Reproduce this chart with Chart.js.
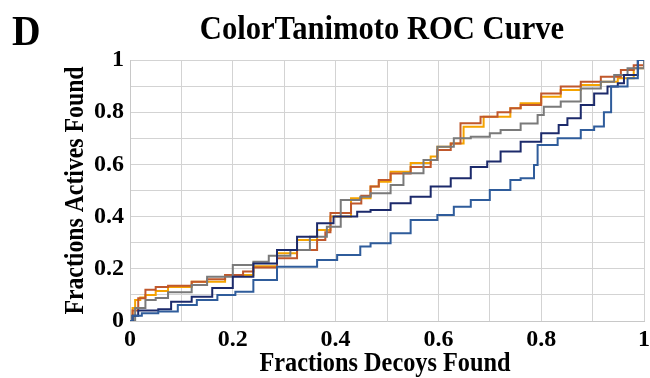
<!DOCTYPE html>
<html>
<head>
<meta charset="utf-8">
<script src="https://cdn.jsdelivr.net/npm/chart.js@4"></script>
<style>
  html, body { margin: 0; padding: 0; background: #fff; }
  #wrap { width: 650px; height: 378px; position: relative; }
</style>
</head>
<body>
<div id="wrap"><canvas id="roc"></canvas></div>
<script>
// ==========================================
// DATA
// ==========================================

const tickLabels = ['0', '0.2', '0.4', '0.6', '0.8', '1'];

const brownX = [0, 0.005, 0.016, 0.03, 0.05, 0.074, 0.12, 0.15, 0.185, 0.22, 0.24, 0.286, 0.325, 0.364, 0.38, 0.39, 0.43, 0.45, 0.468, 0.484, 0.507, 0.546, 0.585, 0.598, 0.624, 0.643, 0.682, 0.715, 0.74, 0.76, 0.80, 0.838, 0.877, 0.916, 0.955, 0.98, 1];
const brownY = [0, 0.04, 0.087, 0.12, 0.13, 0.135, 0.15, 0.16, 0.176, 0.19, 0.205, 0.24, 0.272, 0.31, 0.34, 0.414, 0.45, 0.48, 0.515, 0.54, 0.565, 0.59, 0.617, 0.655, 0.68, 0.758, 0.783, 0.80, 0.815, 0.828, 0.872, 0.898, 0.917, 0.936, 0.962, 0.98, 1];

const orangeX = [0, 0.005, 0.01, 0.02, 0.03, 0.05, 0.074, 0.12, 0.185, 0.24, 0.286, 0.325, 0.364, 0.39, 0.43, 0.468, 0.484, 0.507, 0.546, 0.585, 0.598, 0.624, 0.649, 0.688, 0.74, 0.76, 0.80, 0.838, 0.877, 0.916, 0.949, 0.98, 1];
const orangeY = [0, 0.05, 0.08, 0.09, 0.10, 0.115, 0.13, 0.15, 0.176, 0.21, 0.26, 0.31, 0.349, 0.40, 0.47, 0.515, 0.534, 0.572, 0.605, 0.63, 0.668, 0.68, 0.744, 0.783, 0.815, 0.834, 0.859, 0.885, 0.904, 0.917, 0.93, 0.968, 1];

const grayX = [0, 0.01, 0.03, 0.05, 0.074, 0.12, 0.15, 0.2, 0.24, 0.27, 0.312, 0.35, 0.383, 0.41, 0.448, 0.468, 0.507, 0.532, 0.571, 0.598, 0.63, 0.663, 0.70, 0.721, 0.76, 0.793, 0.805, 0.838, 0.877, 0.916, 0.942, 0.968, 1];
const grayY = [0, 0.05, 0.08, 0.088, 0.11, 0.138, 0.17, 0.215, 0.227, 0.25, 0.272, 0.323, 0.361, 0.464, 0.476, 0.489, 0.521, 0.566, 0.617, 0.668, 0.70, 0.706, 0.719, 0.732, 0.757, 0.789, 0.821, 0.841, 0.891, 0.917, 0.943, 0.968, 1];

const navyX = [0, 0.005, 0.016, 0.055, 0.08, 0.12, 0.16, 0.2, 0.24, 0.286, 0.325, 0.364, 0.396, 0.442, 0.468, 0.507, 0.546, 0.585, 0.624, 0.663, 0.695, 0.721, 0.76, 0.80, 0.834, 0.851, 0.877, 0.903, 0.929, 0.949, 0.961, 0.988, 1];
const navyY = [0, 0.02, 0.04, 0.045, 0.074, 0.093, 0.126, 0.17, 0.22, 0.272, 0.323, 0.375, 0.40, 0.419, 0.425, 0.451, 0.476, 0.515, 0.547, 0.59, 0.611, 0.649, 0.687, 0.719, 0.751, 0.777, 0.828, 0.872, 0.898, 0.911, 0.943, 1, 1];

const blueX = [0, 0.005, 0.023, 0.055, 0.093, 0.13, 0.17, 0.205, 0.24, 0.286, 0.318, 0.364, 0.403, 0.448, 0.468, 0.507, 0.546, 0.598, 0.63, 0.663, 0.70, 0.74, 0.76, 0.786, 0.793, 0.832, 0.877, 0.903, 0.922, 0.936, 0.968, 0.988, 1];
const blueY = [0, 0.02, 0.03, 0.036, 0.061, 0.08, 0.10, 0.112, 0.157, 0.208, 0.208, 0.234, 0.253, 0.285, 0.298, 0.336, 0.387, 0.406, 0.438, 0.464, 0.502, 0.54, 0.547, 0.598, 0.674, 0.70, 0.732, 0.745, 0.80, 0.898, 0.93, 1, 1];

// ==========================================
// CHART
// ==========================================

const serif = '"Liberation Serif", "Times New Roman", serif';

function toPoints(xs, ys) {
    return xs.map((x, i) => ({ x: x, y: ys[i] }));
}

function series(xs, ys, color) {
    return {
        data: toPoints(xs, ys),
        borderColor: color,
        borderWidth: 2,
        pointRadius: 0,
        stepped: true,
        fill: false
    };
}

// draw a string squeezed along its own direction (the source figure uses narrow type)
function squeezedText(ctx, text, x, y, size, squeeze, angle) {
    ctx.save();
    ctx.translate(x, y);
    if (angle) ctx.rotate(angle);
    ctx.scale(squeeze, 1);
    ctx.font = 'bold ' + size + 'px ' + serif;
    ctx.fillText(text, 0, 0);
    ctx.restore();
}

// panel letter, title and axis titles, placed by hand
const headerText = {
    id: 'headerText',
    afterDraw(chart) {
        const ctx = chart.ctx;
        const area = chart.chartArea;
        ctx.save();
        ctx.fillStyle = '#000';
        ctx.textBaseline = 'alphabetic';
        ctx.textAlign = 'left';
        squeezedText(ctx, 'D', 12, 45, 43, 0.92, 0);
        ctx.textAlign = 'center';
        squeezedText(ctx, 'ColorTanimoto ROC Curve', 382, 39, 34, 0.9, 0);
        squeezedText(ctx, 'Fractions Decoys Found', 385, 371, 27, 0.9, 0);
        squeezedText(ctx, 'Fractions Actives Found', 83, (area.top + area.bottom) / 2, 27, 0.88, -Math.PI / 2);
        ctx.restore();
    }
};

const tickFont = { family: serif, size: 24, weight: 'bold' };

function tickText(value) {
    const k = Math.round(value * 10);
    if (k % 2 !== 0) return '';
    return tickLabels[k / 2];
}

new Chart(document.getElementById('roc').getContext('2d'), {
    type: 'line',
    data: {
        datasets: [
            series(blueX, blueY, '#2f5c9b'),
            series(navyX, navyY, '#1c2a6b'),
            series(grayX, grayY, '#7a7a7a'),
            series(brownX, brownY, '#c0582c'),
            series(orangeX, orangeY, '#f5a300')
        ]
    },
    options: {
        responsive: true,
        maintainAspectRatio: false,
        animation: false,
        layout: { padding: { left: 0, right: 1, top: 60, bottom: 0 } },
        plugins: {
            legend: { display: false },
            tooltip: { enabled: false },
            title: { display: false }
        },
        scales: {
            x: {
                type: 'linear',
                min: 0,
                max: 1,
                grid: { color: '#d3d3d3', lineWidth: 1, drawTicks: false },
                border: { color: '#c8c8c8' },
                ticks: { stepSize: 0.1, color: '#000', font: tickFont, padding: 4, maxRotation: 0, autoSkip: false, callback: tickText },
                afterFit(scale) {
                    scale.height = 57;
                    scale.paddingRight = 6;
                }
            },
            y: {
                min: 0,
                max: 1,
                grid: { color: '#d3d3d3', lineWidth: 1, drawTicks: false },
                border: { color: '#c8c8c8' },
                ticks: { stepSize: 0.1, color: '#000', font: tickFont, padding: 6, autoSkip: false, callback: tickText },
                afterFit(scale) { scale.width = 130; }
            }
        }
    },
    plugins: [headerText]
});
</script>
</body>
</html>
